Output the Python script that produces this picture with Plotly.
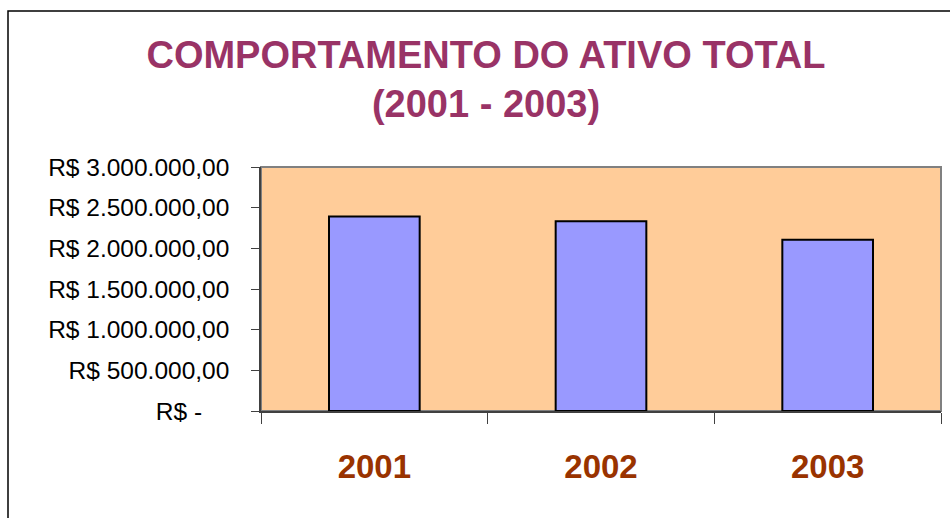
import plotly.graph_objects as go

years = ["2001", "2002", "2003"]
ativo_total = [2390000, 2333000, 2104000]
y_tick_vals = [0, 500000, 1000000, 1500000, 2000000, 2500000, 3000000]
y_tick_text = ["R$ -" + "\u00a0" * 4, "R$ 500.000,00", "R$ 1.000.000,00", "R$ 1.500.000,00",
               "R$ 2.000.000,00", "R$ 2.500.000,00", "R$ 3.000.000,00"]

FONT = "Liberation Sans, Arial, sans-serif"

fig = go.Figure(go.Bar(
    x=years, y=ativo_total,
    marker=dict(color="#9999FF", line=dict(color="#000000", width=2)),
    width=0.4,
))

fig.update_layout(
    width=950, height=518,
    margin=dict(l=261, r=9, t=167, b=107),
    paper_bgcolor="#FFFFFF",
    plot_bgcolor="#FFCC99",
    showlegend=False,
    title=dict(
        text="<b>COMPORTAMENTO DO ATIVO TOTAL<br>(2001 - 2003)</b>",
        font=dict(family=FONT, size=38, color="#993366"),
        x=486 / 950, xanchor="center", xref="container",
        y=1 - 68 / 518, yanchor="middle", yref="container",
    ),
    xaxis=dict(
        type="category",
        showline=True, linecolor="#404040", linewidth=1.5,
        ticks="outside", tickson="boundaries", ticklen=11, tickcolor="#404040", tickwidth=1,
        tickfont=dict(family=FONT, size=33, color="#993300", weight="bold"),
        ticklabelstandoff=26,
        showgrid=False, zeroline=False,
    ),
    yaxis=dict(
        range=[0, 3000000],
        tickvals=y_tick_vals, ticktext=y_tick_text,
        showline=True, linecolor="#404040", linewidth=1.5,
        ticks="outside", ticklen=8, tickcolor="#404040", tickwidth=1,
        tickfont=dict(family=FONT, size=24.5, color="#000000"),
        ticklabelstandoff=17,
        showgrid=False, zeroline=False,
    ),
    shapes=[
        dict(type="rect", xref="paper", yref="paper", x0=0, x1=1, y0=0, y1=1,
             line=dict(color="#808080", width=2), layer="below"),
        dict(type="rect", xref="paper", yref="paper",
             x0=(8 - 261) / 680, x1=(970 - 261) / 680,
             y0=(411 - 540) / 244, y1=(411 - 11) / 244,
             line=dict(color="#000000", width=1.5), fillcolor="rgba(0,0,0,0)", layer="below"),
    ],
)

fig.write_html("out.html", config={"displayModeBar": False},
               post_script="document.body.style.margin='0';document.body.style.overflow='hidden';")
